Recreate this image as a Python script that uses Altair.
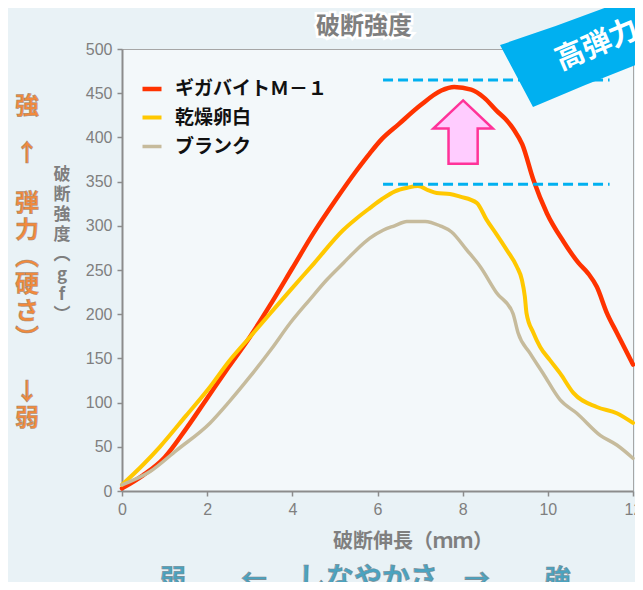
import altair as alt
import pandas as pd

# ---- data ----
series_names = ["ギガバイトＭ－１", "乾燥卵白", "ブランク"]
series_colors = ["#ff3300", "#ffc800", "#c6bb9c"]
series_widths = [4.5, 3.5, 3.5]

x_giga = [0, 0.5, 1, 1.5, 2, 2.5, 3, 3.5, 4, 4.5, 5, 5.5, 5.82, 6.1, 6.5, 7, 7.5, 7.8, 8.2, 8.5,
          8.8, 9.0, 9.2, 9.4, 9.66, 9.98, 10.37, 10.72, 10.95, 11.15, 11.39, 11.62, 12]
y_giga = [3, 18, 38, 70, 105, 140, 174, 212, 252, 292, 328, 362, 382, 398, 415, 436, 453, 457, 454, 445,
          430, 421, 409, 392, 352, 314, 282, 258, 246, 231, 201, 179, 143]

x_egg = [0, 0.5, 0.89, 1.5, 2.07, 2.5, 3, 3.5, 3.95, 4.5, 5.19, 5.5, 5.82, 6.1, 6.41, 6.7, 6.95, 7.2,
         7.39, 7.7, 7.94, 8.33, 8.56, 8.8, 9.03, 9.27, 9.39, 9.46, 9.5, 9.66, 9.82, 10.05, 10.29, 10.6,
         11.15, 11.62, 12]
y_egg = [7, 30, 50, 85, 118, 146, 174, 202, 227, 257, 295, 308, 320, 330, 339, 343, 345, 340,
         337, 336, 333, 326, 307, 290, 273, 254, 239, 220, 201, 179, 163, 148, 133, 111,
         95, 88, 77]

x_blank = [0, 0.66, 1.28, 2.07, 2.5, 3.0, 3.5, 3.95, 4.4, 4.81, 5.2, 5.51, 5.82, 6.13, 6.4, 6.69, 7.12,
           7.47, 7.74, 8.09, 8.41, 8.8, 9.18, 9.3, 9.58, 9.89, 10.29, 10.68, 11.23, 11.62, 12]
y_blank = [7, 22, 46, 77, 100, 129, 160, 190, 216, 239, 258, 273, 286, 295, 300, 305, 305,
           300, 293, 273, 254, 224, 201, 179, 156, 133, 103, 88, 63, 52, 37]

x_ticks = [0, 2, 4, 6, 8, 10, 12]
y_ticks = [0, 50, 100, 150, 200, 250, 300, 350, 400, 450, 500]

ref_levels = [465, 347]
ref_x_start = [6.13, 6.13]
ref_x_end = [11.45, 11.45]

arrow_x = [8.01]
arrow_y = [406]

rows = []
for name, xs, ys in zip(series_names, [x_giga, x_egg, x_blank], [y_giga, y_egg, y_blank]):
    for i, (xv, yv) in enumerate(zip(xs, ys)):
        rows.append({"series": name, "x": xv, "y": yv, "i": i})
df = pd.DataFrame(rows)

dummy = pd.DataFrame({"d": [0]})
JP = "Noto Sans CJK JP"

xscale = alt.Scale(domain=[0, 12], nice=False, zero=False)
yscale = alt.Scale(domain=[0, 500], nice=False)

lines = alt.Chart(df).mark_line(strokeJoin="round", strokeCap="round", interpolate="monotone").encode(
    x=alt.X("x:Q", scale=xscale,
            axis=alt.Axis(values=x_ticks, title=None, labelFlush=False, format="d")),
    y=alt.Y("y:Q", scale=yscale, axis=alt.Axis(values=y_ticks, title=None, format="d")),
    color=alt.Color("series:N", scale=alt.Scale(domain=series_names, range=series_colors),
                    legend=alt.Legend(title=None, orient="none", legendX=18, legendY=28,
                                      symbolType="stroke", symbolStrokeWidth=4, symbolSize=361,
                                      labelFontSize=19, labelFont=JP, labelFontWeight="bold",
                                      labelColor="#111111", labelOffset=11, rowPadding=7,
                                      padding=0)),
    strokeWidth=alt.StrokeWidth("series:N",
                                scale=alt.Scale(domain=series_names, range=series_widths),
                                legend=None),
    order="i:Q",
)

ref_df = pd.DataFrame({"y": ref_levels, "x": ref_x_start, "x2": ref_x_end})
rules = alt.Chart(ref_df).mark_rule(color="#00b0f0", strokeWidth=3, strokeDash=[10, 5]).encode(
    x=alt.X("x:Q", scale=xscale), x2="x2:Q", y=alt.Y("y:Q", scale=yscale)
)

arrow_path = "M 0 -1 L 0.94 -0.11 L 0.46 -0.11 L 0.46 1 L -0.46 1 L -0.46 -0.11 L -0.94 -0.11 Z"
arrow = alt.Chart(pd.DataFrame({"x": arrow_x, "y": arrow_y})).mark_point(
    shape=arrow_path, size=4012, filled=True, fill="#ffccff", stroke="#ff3399",
    strokeWidth=2.5, opacity=1
).encode(x=alt.X("x:Q", scale=xscale), y=alt.Y("y:Q", scale=yscale))

banner_path = "M -0.97 -0.10 Q 0.1 -0.45 1.2 -0.93 L 1.5 -0.30 Q 0.45 0.05 -0.64 0.52 Z"
banner = alt.Chart(dummy).mark_point(
    shape=banner_path, size=40000, filled=True, fill="#00b0f0", strokeWidth=0, opacity=1
).encode(x=alt.value(475), y=alt.value(6))


def txt(text, x, y, **kw):
    return alt.Chart(dummy).mark_text(text=text, **kw).encode(x=alt.value(x), y=alt.value(y))


banner_text = txt("高弾力", 475, -4, font=JP, fontSize=29, fontWeight="bold", color="white",
                  angle=337, align="center", baseline="middle")

title_halo = txt("破断強度", 242, -22, font=JP, fontSize=24, fontWeight="bold", color="white",
                 stroke="white", strokeWidth=5, align="center", baseline="middle")
title = txt("破断強度", 242, -22, font=JP, fontSize=24, fontWeight="bold", color="#7f7f7f",
            align="center", baseline="middle")

x_title = txt("破断伸長（ｍｍ）", 291, 493, font=JP, fontSize=20, fontWeight="bold",
              color="#7f7f7f", align="center", baseline="middle")

# multi-line text: y is the centre of the first line
y_title = txt(["破", "断", "強", "度", "︵", "g", "f", "︶"], -60, 126, font=JP, fontSize=17,
              fontWeight="bold", color="#7f7f7f", align="center", baseline="middle",
              lineHeight=20)

orange = dict(font=JP, fontSize=24, fontWeight="bold", color="#f28a3c", stroke="#a08878",
              strokeWidth=0.5, align="center", baseline="middle")
o1 = txt("強", -95, 58, **orange)
o2 = txt("↑", -95, 105, **orange)
o3 = txt(["弾", "力", "︵", "硬", "さ", "︶"], -95, 155, lineHeight=27, **orange)
o4 = txt("↓", -95, 344, **orange)
o5 = txt("弱", -95, 370, **orange)

teal = dict(font=JP, fontSize=26, fontWeight="bold", color="#4aa3c0", stroke="#7f8a90",
            strokeWidth=0.6, align="center", baseline="middle")
b1 = txt("弱", 51, 531, **teal)
b2 = txt("←", 132, 531, **teal)
b3 = txt("しなやかさ", 246, 531, **{**teal, "fontSize": 28})
b4 = txt("→", 355, 531, **teal)
b5 = txt("強", 436, 531, **teal)

chart = alt.layer(
    lines, rules, arrow, banner, banner_text, title_halo, title, x_title, y_title,
    o1, o2, o3, o4, o5, b1, b2, b3, b4, b5
).properties(
    width=511, height=442,
    autosize=alt.AutoSizeParams(type="none"),
    padding={"left": 114, "top": 41, "right": 2, "bottom": 91},
    background="#e9f2f6",
).configure_view(
    fill="#f3f8fa", stroke="#a6a6a6", strokeWidth=1
).configure_axis(
    domainColor="#8c8c8c", domainWidth=2, tickColor="#8c8c8c", tickWidth=1.5, tickSize=5,
    labelColor="#7f7f7f", labelFont="Liberation Sans", labelFontSize=16, labelPadding=5,
    grid=False,
)

chart.save("out.html", embed_options={"renderer": "svg", "actions": False})
